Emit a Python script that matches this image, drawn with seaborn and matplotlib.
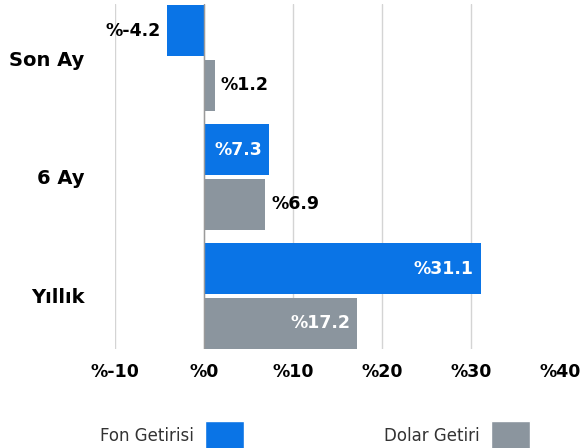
import matplotlib
matplotlib.use("Agg")
from matplotlib import pyplot as plt
from matplotlib.patches import Patch
import seaborn as sns
import pandas as pd

periods = ["Son Ay", "6 Ay", "Yıllık"]
fon = [-4.2, 7.3, 31.1]
dolar = [1.2, 6.9, 17.2]
series = ["Fon Getirisi", "Dolar Getiri"]
xticks = [-10, 0, 10, 20, 30, 40]
xticklabels = ["%-10", "%0", "%10", "%20", "%30", "%40"]

colors = {"Fon Getirisi": "#0a74e6", "Dolar Getiri": "#8b959e"}

df = pd.DataFrame({
    "period": periods * 2,
    "value": fon + dolar,
    "series": [series[0]] * 3 + [series[1]] * 3,
})

sns.set_style("white")
plt.rcParams["font.family"] = ["DejaVu Sans"]

fig = plt.figure(figsize=(5.84, 4.48), dpi=100)
ax = fig.add_axes([0.197, 0.22, 0.762, 0.77])

sns.barplot(data=df, x="value", y="period", hue="series", orient="h",
            palette=colors, width=0.92, gap=0.06, ax=ax, legend=False,
            saturation=1, linewidth=0, edgecolor="none", zorder=3)

ax.set_xlim(-10, 40)
ax.set_ylim(2.45, -0.45)
ax.set_xticks(xticks)
ax.set_xticklabels(xticklabels, fontsize=12.5, fontweight="bold", color="black")
ax.set_yticks(range(len(periods)))
ax.set_yticklabels(periods, fontsize=14, fontweight="bold", color="black")
ax.tick_params(axis="x", length=0, pad=10)
ax.tick_params(axis="y", length=0, pad=22)
ax.set_xlabel("")
ax.set_ylabel("")
for s in ax.spines.values():
    s.set_visible(False)
ax.grid(axis="x", color="#d4d4d4", linewidth=1, zorder=0)
ax.grid(axis="y", visible=False)
ax.get_xgridlines()[-1].set_visible(False)
ax.axvline(0, color="#9a9a9a", linewidth=1, zorder=4)

# value labels
for cont in ax.containers:
    for bar in cont:
        w = bar.get_width()
        yc = bar.get_y() + bar.get_height() / 2
        txt = "%" + f"{w:.1f}"
        if w >= 7:
            ax.annotate(txt, (w, yc), xytext=(-5, 0), textcoords="offset points",
                        ha="right", va="center", color="white",
                        fontsize=12.5, fontweight="bold", zorder=5)
        elif w >= 0:
            ax.annotate(txt, (w, yc), xytext=(4, 0), textcoords="offset points",
                        ha="left", va="center", color="black",
                        fontsize=12.5, fontweight="bold", zorder=5)
        else:
            ax.annotate(txt, (w, yc), xytext=(-4, 0), textcoords="offset points",
                        ha="right", va="center", color="black",
                        fontsize=12.5, fontweight="bold", zorder=5)

handles = [Patch(facecolor=colors[s], label=s) for s in series]
fig.legend(handles=handles, loc="upper left", bbox_to_anchor=(0.16, 0.076),
           ncol=2, frameon=False, markerfirst=False, fontsize=12,
           labelcolor="#333333",
           handlelength=2.35, handleheight=2.35, handletextpad=0.66,
           columnspacing=8.4, borderaxespad=0)

fig.savefig("out.png", dpi=100)
